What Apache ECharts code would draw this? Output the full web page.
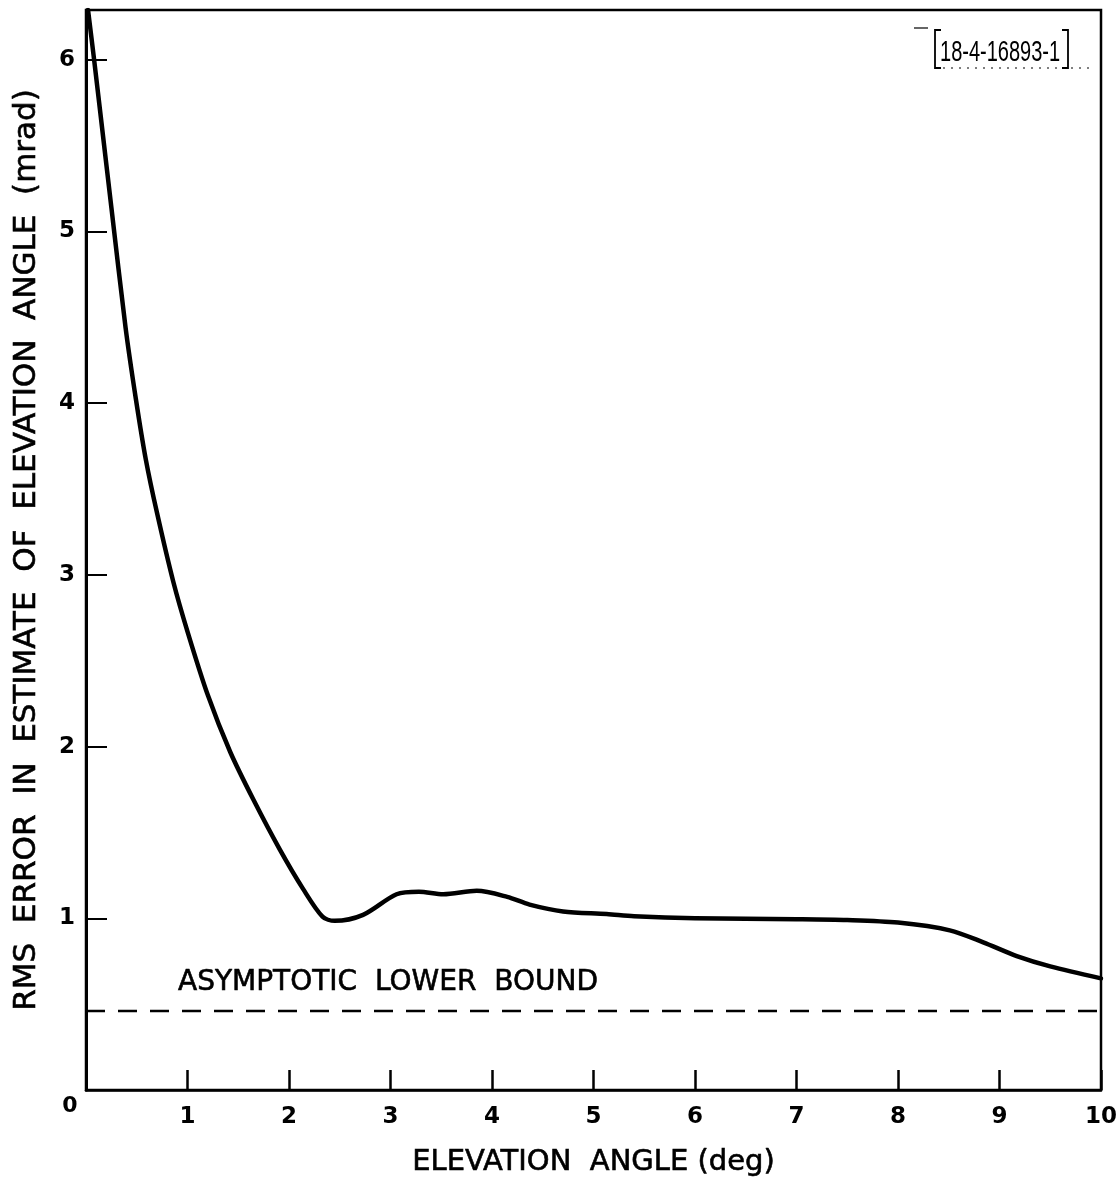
<!DOCTYPE html>
<html>
<head>
<meta charset="utf-8">
<script src="https://cdn.jsdelivr.net/npm/echarts@6/dist/echarts.min.js"></script>
<style>
html,body{margin:0;padding:0;background:#fff;}
#chart{width:1117px;height:1182px;}
</style>
</head>
<body>
<div id="chart"></div>
<script>
// ---- data ----
var curveX = [0.02, 0.08, 0.165, 0.25, 0.39, 0.49, 0.59, 0.70, 0.86, 1.00, 1.20, 1.42, 1.65, 1.91, 2.14, 2.33, 2.45, 2.73, 3.06, 3.28, 3.52, 3.85, 4.15, 4.37, 4.70, 5.13, 5.40, 6.0, 7.0, 7.5, 8.0, 8.51, 8.84, 9.17, 9.5, 10.0];
var curveY = [6.29, 6.00, 5.57, 5.14, 4.44, 4.03, 3.67, 3.36, 2.96, 2.67, 2.30, 1.97, 1.69, 1.40, 1.17, 1.01, 0.985, 1.02, 1.14, 1.155, 1.14, 1.16, 1.125, 1.08, 1.04, 1.025, 1.012, 1.00, 0.995, 0.99, 0.975, 0.93, 0.86, 0.78, 0.72, 0.65];
var boundX = [0, 10];
var boundY = [0.46, 0.46];
var xTickLabels = ['0', '1', '2', '3', '4', '5', '6', '7', '8', '9', '10'];
var yTickLabels = ['0', '1', '2', '3', '4', '5', '6'];
var xAxisTitle = 'ELEVATION  ANGLE (deg)';
var yAxisTitle = 'RMS  ERROR  IN  ESTIMATE  OF  ELEVATION  ANGLE  (mrad)';
var boundLabel = 'ASYMPTOTIC  LOWER  BOUND';
var figureId = '18-4-16893-1';

function zip(a, b) { return a.map(function (v, i) { return [v, b[i]]; }); }

var FONT = '"DejaVu Sans", "Liberation Sans", sans-serif';
var chart = echarts.init(document.getElementById('chart'), null, {renderer: 'canvas'});
var option = {
  backgroundColor: '#fff',
  animation: false,
  grid: {left: 86, right: 16, top: 10, bottom: 92, show: true, borderColor: '#000', borderWidth: 2.5,
         backgroundColor: 'transparent', containLabel: false, outerBoundsMode: 'none'},
  xAxis: {
    type: 'value', min: 0, max: 10, interval: 1,
    name: xAxisTitle, nameLocation: 'middle', nameGap: 58,
    nameTextStyle: {fontFamily: FONT, fontSize: 29, color: '#000', textBorderColor: '#000', textBorderWidth: 0.6},
    axisLine: {show: true, lineStyle: {color: '#000', width: 2.5}},
    axisTick: {show: true, inside: true, length: 20, lineStyle: {color: '#000', width: 2.5}},
    axisLabel: {
      margin: 16, fontFamily: FONT, fontSize: 23, fontWeight: 'bold', color: '#000',
      formatter: function (v) { return v === 0 ? '' : (xTickLabels[v] || ''); }
    },
    splitLine: {show: false}
  },
  yAxis: {
    type: 'value', min: 0, max: 6.29, interval: 1,
    name: yAxisTitle, nameLocation: 'middle', nameGap: 44, nameRotate: 90,
    nameTextStyle: {fontFamily: FONT, fontSize: 31, color: '#000', textBorderColor: '#000', textBorderWidth: 0.6},
    axisLine: {show: true, lineStyle: {color: '#000', width: 3}},
    axisTick: {show: true, inside: true, length: 21, lineStyle: {color: '#000', width: 2}},
    axisLabel: {
      margin: 11, fontFamily: FONT, fontSize: 23, fontWeight: 'bold', color: '#000',
      formatter: function (v) { return (Number.isInteger(v) && v > 0) ? (yTickLabels[v] || '') : ''; }
    },
    splitLine: {show: false}
  },
  series: [
    {
      type: 'line', data: zip(curveX, curveY), smooth: 0.3, symbol: 'none',
      lineStyle: {color: '#000', width: 4.5, cap: 'round', join: 'round'}, clip: true
    },
    {
      type: 'line', data: zip(boundX, boundY), symbol: 'none',
      lineStyle: {color: '#000', width: 2.5, type: [19, 13]}
    }
  ],
  graphic: [
    {type: 'text', x: 70, y: 1106, style: {text: xTickLabels[0], fontFamily: FONT, fontSize: 22, fontWeight: 'bold', fill: '#000', align: 'center', verticalAlign: 'middle'}},
    {type: 'text', x: 178, y: 983, style: {text: boundLabel, fontFamily: FONT, fontSize: 28, fill: '#000', stroke: '#000', lineWidth: 0.6, align: 'left', verticalAlign: 'middle'}},
    {type: 'text', x: 940, y: 53, scaleX: 0.69, style: {text: figureId, fontFamily: '"Liberation Sans", sans-serif', fontSize: 29, fill: '#000', align: 'left', verticalAlign: 'middle'}},
    {type: 'polyline', shape: {points: [[941, 30], [935, 30], [935, 68], [941, 68]]}, style: {stroke: '#000', lineWidth: 1.8, fill: null}},
    {type: 'polyline', shape: {points: [[1062, 30], [1068, 30], [1068, 68], [1062, 68]]}, style: {stroke: '#000', lineWidth: 1.8, fill: null}},
    {type: 'line', shape: {x1: 914, y1: 28, x2: 928, y2: 28}, style: {stroke: '#000', lineWidth: 1.2}},
    {type: 'line', shape: {x1: 943, y1: 68, x2: 1092, y2: 68}, style: {stroke: '#000', lineWidth: 1, lineDash: [2, 6]}}
  ]
};
chart.setOption(option);
</script>
</body>
</html>
